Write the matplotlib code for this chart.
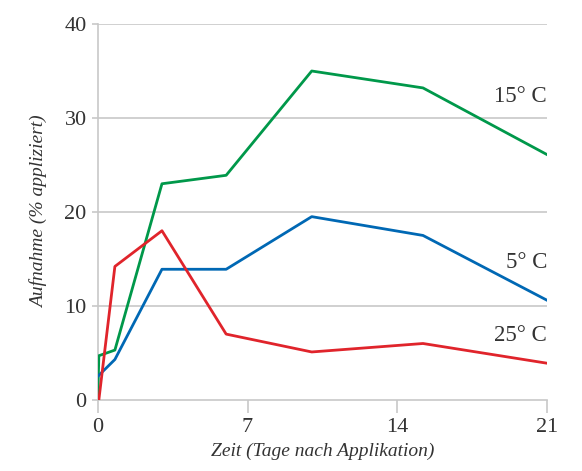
import matplotlib
matplotlib.use("Agg")
import matplotlib.pyplot as plt

# days after application
days_15 = [0, 0.05, 0.8, 3, 6, 10, 15.2, 21]
vals_15 = [0, 4.7, 5.3, 23.0, 23.9, 35.0, 33.2, 26.1]

days_5 = [0, 0.8, 3, 6, 10, 15.2, 21]
vals_5 = [2.5, 4.3, 13.9, 13.9, 19.5, 17.5, 10.6]

days_25 = [0.05, 0.8, 3, 6, 10, 15.2, 21]
vals_25 = [0, 14.2, 18.0, 7.0, 5.1, 6.0, 3.9]

labels = ["15° C", "5° C", "25° C"]
label_y = [32.3, 14.6, 6.8]

xticks = [0, 7, 14, 21]
yticks = [0, 10, 20, 30, 40]

plt.rcParams['font.family'] = ['Liberation Serif', 'DejaVu Serif']
txt = '#333333'
grey = '#c8c8c8'

fig = plt.figure(figsize=(5.82, 4.71), dpi=100)
ax = fig.add_axes([0.168, 0.151, 0.772, 0.798])

for y in yticks[1:]:
    ax.axhline(y, color=grey, lw=1.2, zorder=1)

ax.plot(days_15, vals_15, color='#00984a', lw=2, zorder=3)
ax.plot(days_5, vals_5, color='#0068b4', lw=2, zorder=3)
ax.plot(days_25, vals_25, color='#e0242b', lw=2, zorder=4)

for lab, y in zip(labels, label_y):
    ax.text(21, y, lab, ha='right', va='center', fontsize=16.5, color=txt)

ax.set_xlim(0, 21)
ax.set_ylim(0, 40)
ax.set_xticks(xticks)
ax.set_yticks(yticks)
ax.tick_params(axis='x', length=9, width=1.2, color=grey, labelsize=16, labelcolor=txt, pad=4)
ax.tick_params(axis='y', length=4, width=1.2, color=grey, labelsize=16, labelcolor=txt, pad=4)

for s in ['top', 'right']:
    ax.spines[s].set_visible(False)
for s in ['left', 'bottom']:
    ax.spines[s].set_color(grey)
    ax.spines[s].set_linewidth(1.2)

ax.set_xlabel('Zeit (Tage nach Applikation)', fontsize=14, style='italic', color=txt, labelpad=4)
ax.set_ylabel('Aufnahme (% appliziert)', fontsize=14, style='italic', color=txt, labelpad=12)

fig.savefig('out.png', dpi=100)
